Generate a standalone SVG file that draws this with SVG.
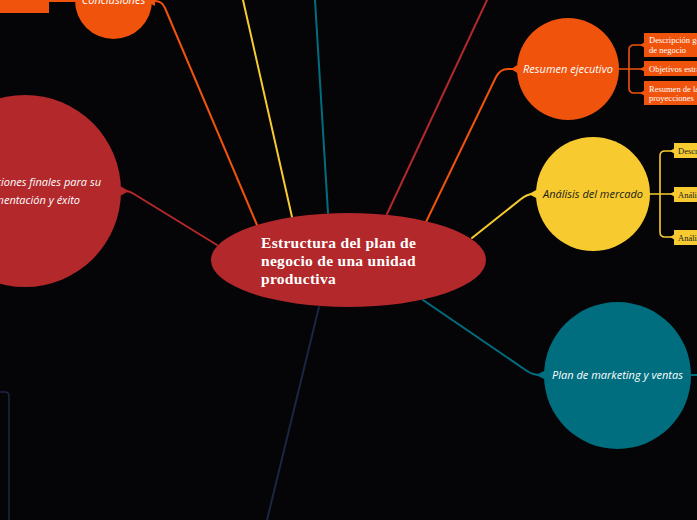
<svg xmlns="http://www.w3.org/2000/svg" width="697" height="520" viewBox="0 0 697 520">
<style>
.bg{fill:#050507}
.c{fill:none;stroke-width:2;stroke-linecap:round;stroke-linejoin:round}
.b{fill:none;stroke-width:1.6;stroke-linecap:round;stroke-linejoin:round}
.or{stroke:#f0530b}.yl{stroke:#f7cb2f}.tl{stroke:#006e7f}.rd{stroke:#b2282b}.nv{stroke:#1c2642}
.fo{fill:#f0530b}.fy{fill:#f7cb2f}.ft{fill:#006e7f}.fr{fill:#b2282b}
.lbl{font-family:"Open Sans","Liberation Sans",sans-serif;font-style:italic;font-size:11px}
.main{font-family:"Liberation Serif","DejaVu Serif",serif;font-weight:bold;font-size:15.5px;letter-spacing:0.3px;fill:#ffffff}
.sub{font-family:"Liberation Serif","DejaVu Serif",serif;font-size:8.5px}
</style>
<rect class="bg" x="0" y="0" width="697" height="520"/>
<g id="connectors">
  <path class="c or" d="M426,222 L496,77 Q500,69 508,69 L516,69"/>
  <path class="c yl" d="M472,238 L521,199 Q527,194 534,194 L538,194"/>
  <path class="c tl" d="M423,300 L527,371 Q533,375 540,375 L546,375"/>
  <path class="c tl" d="M690,375 L697,375"/>
  <path class="c rd" d="M217,245 L134,194 Q130,191 125,191 L120,191"/>
  <path class="c or" d="M257,225 L165,8 Q162,1 155,1 L150,1"/>
  <path class="c or" d="M76,1 L48,1"/>
  <path class="c rd" d="M387,214 L487,0"/>
  <path class="c yl" d="M292,217 L243,0"/>
  <path class="c tl" d="M328,213 L315,0"/>
  <path class="c nv" d="M319,307 L267,520"/>
  <path class="b nv" d="M0,392 L5,392 Q9,392 9,396 L9,520"/>
  <path class="b or" d="M618,69 L629,69 M642,45 L634,45 Q629,45 629,50 L629,88 Q629,93 634,93 L642,93 M629,69 L642,69"/>
  <path class="b yl" d="M648,194 L660,194 M672,151 L665,151 Q660,151 660,156 L660,232 Q660,237 665,237 L672,237 M660,194 L672,194"/>
  <polygon class="fo" points="511,69 519,64 519,74"/>
  <polygon class="fy" points="529,194 538,189 538,199"/>
  <polygon class="ft" points="536,375 546,370 546,380"/>
  <polygon class="fr" points="129,191 120,186 120,196"/>
  <polygon class="fo" points="146,1 155,-4 155,6"/>
  <polygon class="fo" points="640,45 645,42 645,48"/>
  <polygon class="fo" points="640,69 645,66 645,72"/>
  <polygon class="fo" points="640,93 645,90 645,96"/>
  <polygon class="fy" points="670,151 675,148 675,154"/>
  <polygon class="fy" points="670,194 675,191 675,197"/>
  <polygon class="fy" points="670,237 675,234 675,240"/>
</g>
<g id="central">
  <ellipse class="fr" cx="348.5" cy="260" rx="137.5" ry="47"/>
  <text class="main" x="261" y="248">Estructura del plan de</text>
  <text class="main" x="261" y="266">negocio de una unidad</text>
  <text class="main" x="261" y="284">productiva</text>
</g>
<g id="resumen">
  <circle class="fo" cx="568" cy="69" r="51"/>
  <text class="lbl" x="568" y="73" text-anchor="middle" fill="#ffffff">Resumen ejecutivo</text>
</g>
<g id="resumen-1">
  <rect class="fo" x="644" y="33" width="70" height="24"/>
  <text class="sub" x="649" y="43" fill="#ffffff">Descripción general</text>
  <text class="sub" x="649" y="53" fill="#ffffff">de negocio</text>
</g>
<g id="resumen-2">
  <rect class="fo" x="644" y="61" width="70" height="15"/>
  <text class="sub" x="649" y="72" fill="#ffffff">Objetivos estratégicos</text>
</g>
<g id="resumen-3">
  <rect class="fo" x="644" y="81" width="70" height="24"/>
  <text class="sub" x="649" y="92" fill="#ffffff">Resumen de las</text>
  <text class="sub" x="649" y="101" fill="#ffffff">proyecciones</text>
</g>
<g id="mercado">
  <circle class="fy" cx="593" cy="194" r="57"/>
  <text class="lbl" x="593" y="198" text-anchor="middle" fill="#1a1a1a">Análisis del mercado</text>
</g>
<g id="mercado-1">
  <rect class="fy" x="674" y="143" width="40" height="15"/>
  <text class="sub" x="678" y="154" fill="#222222">Descripción</text>
</g>
<g id="mercado-2">
  <rect class="fy" x="674" y="187" width="40" height="15"/>
  <text class="sub" x="678" y="198" fill="#222222">Análisis</text>
</g>
<g id="mercado-3">
  <rect class="fy" x="674" y="230" width="40" height="15"/>
  <text class="sub" x="678" y="241" fill="#222222">Análisis</text>
</g>
<g id="marketing">
  <circle class="ft" cx="617.5" cy="375.5" r="73.5"/>
  <text class="lbl" x="617.5" y="379" text-anchor="middle" fill="#ffffff">Plan de marketing y ventas</text>
</g>
<g id="conclusiones">
  <circle class="fo" cx="113.5" cy="0.5" r="38.5"/>
  <text class="lbl" x="113.5" y="4" text-anchor="middle" fill="#ffffff">Conclusiones</text>
</g>
<g id="conclusiones-1">
  <rect class="fo" x="-5" y="-5" width="54" height="18"/>
</g>
<g id="recomendaciones">
  <circle class="fr" cx="25" cy="191" r="96"/>
  <text class="lbl" x="101" y="186" text-anchor="end" fill="#ffffff">Recomendaciones finales para su</text>
  <text class="lbl" x="80" y="204" text-anchor="end" fill="#ffffff">implementación y éxito</text>
</g>
</svg>
